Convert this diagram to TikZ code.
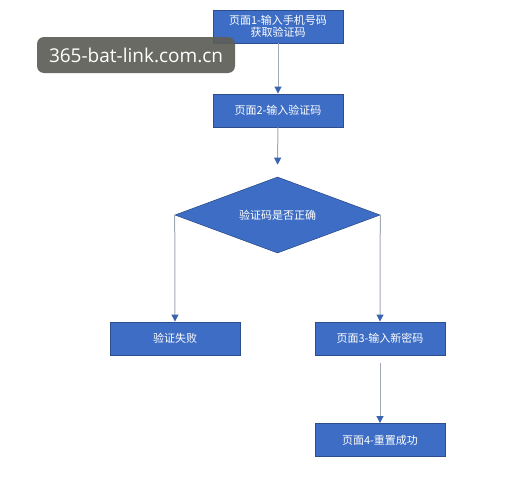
\documentclass[tikz,border=0pt]{standalone}
\usepackage{fontspec}
\setmainfont{Noto Sans CJK SC}
\newfontfamily\wmfont{Open Sans}
\usetikzlibrary{shapes.geometric,arrows.meta}
\definecolor{boxfill}{HTML}{3D6DC4}
\definecolor{boxline}{HTML}{2C4E8C}
\definecolor{conn}{HTML}{A3A9B4}
\definecolor{tipc}{HTML}{3A64B0}
\definecolor{wmgray}{HTML}{5E5E58}
\tikzset{
  stepbox/.style={rectangle, draw=boxline, fill=boxfill, line width=0.9pt, minimum width=130pt, minimum height=33pt, inner sep=1pt, text=white, font=\fontsize{11pt}{12pt}\selectfont, align=center},
  decbox/.style={diamond, draw=boxline, fill=boxfill, line width=0.6pt, minimum width=205pt, minimum height=76pt, aspect=2.7, inner sep=0pt, text=white, font=\fontsize{11pt}{12pt}\selectfont},
  conline/.style={draw=conn, line width=1pt, -{Triangle[length=7pt,width=7pt,fill=tipc,color=tipc]}}
}
\begin{document}
\begin{tikzpicture}[x=1pt,y=-1pt]
\useasboundingbox (0,0) rectangle (523,479);
\fill[white] (0,0) rectangle (523,479);
\node[stepbox] (p1) at (278,26.5) {页面1-输入手机号码\\获取验证码};
\node[stepbox] (p2) at (278,110.5) {页面2-输入验证码};
\node[decbox] (d) at (277.5,215) {验证码是否正确};
\node[stepbox] (fail) at (175,338.5) {验证失败};
\node[stepbox] (p3) at (380,338.5) {页面3-输入新密码};
\node[stepbox] (p4) at (380,440) {页面4-重置成功};
\draw[conline] (p1) -- (p2);
\draw[conline, shorten >=12pt] (p2) -- (d.north);
\draw[conline] (d.west) -- (fail.north);
\draw[conline] (d.east) -- (p3.north);
\draw[conline, shorten <=8pt] (p3) -- (p4);
\node[rectangle, rounded corners=7pt, fill=wmgray, fill opacity=0.92, text opacity=1, text=white, minimum width=198pt, minimum height=36pt, inner sep=0pt, font=\wmfont\fontsize{19pt}{22pt}\selectfont] (wm) at (136,55) {365-bat-link.com.cn};
\end{tikzpicture}
\end{document}
